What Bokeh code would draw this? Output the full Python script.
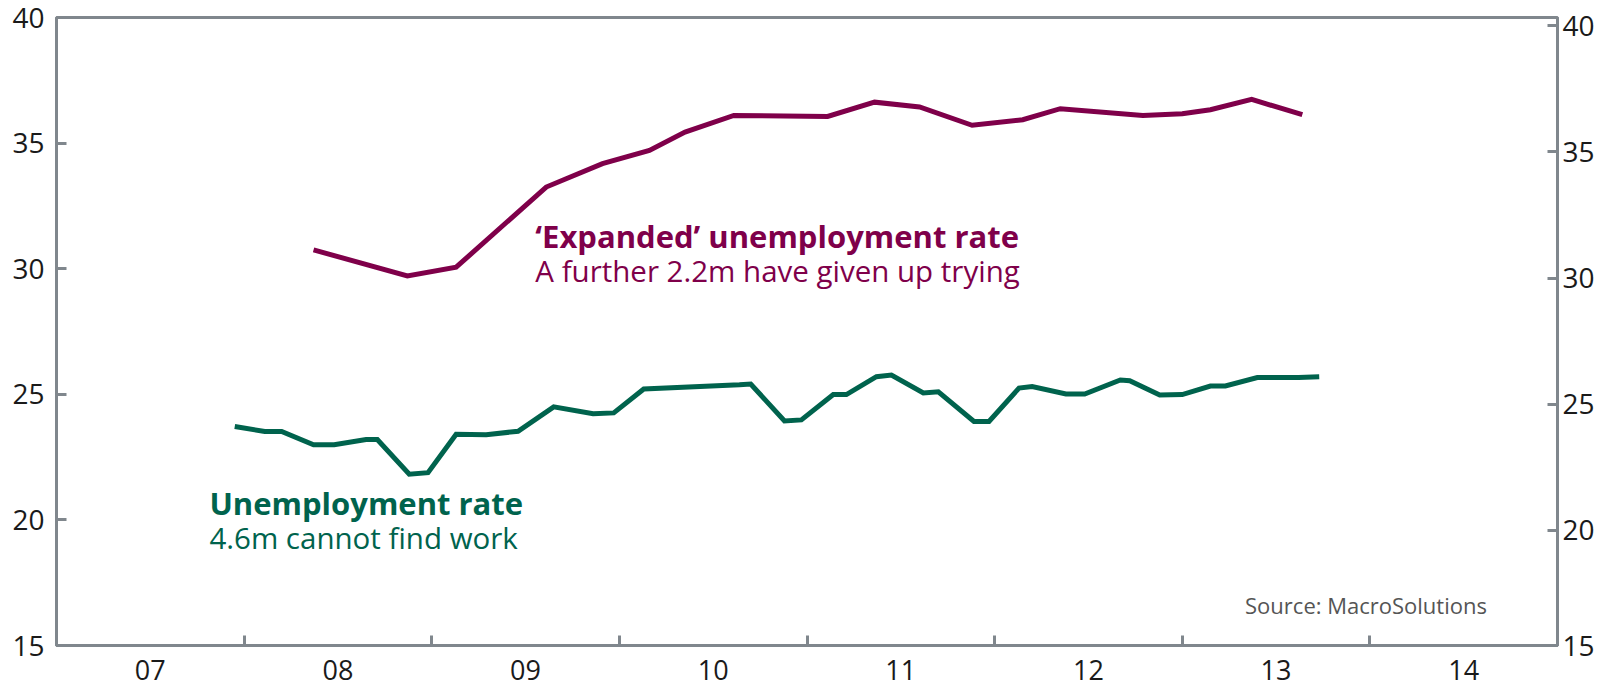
from bokeh.plotting import figure
from bokeh.models import Range1d, LinearAxis, FixedTicker, Label
from bokeh.embed import file_html
from bokeh.resources import INLINE

# ---- data (decimal years, percent) ----
exp_years = [2008.37, 2008.87, 2009.13, 2009.61, 2009.91, 2010.16, 2010.35, 2010.61,
             2011.11, 2011.36, 2011.60, 2011.88, 2012.15, 2012.35, 2012.79, 2013.00,
             2013.15, 2013.37, 2013.64]
exp_rate = [30.75, 29.71, 30.06, 33.25, 34.18, 34.71, 35.44, 36.10,
            36.06, 36.63, 36.44, 35.71, 35.93, 36.37, 36.10, 36.17,
            36.33, 36.74, 36.13]

unemp_years = [2007.95, 2008.11, 2008.20, 2008.37, 2008.48, 2008.65, 2008.71, 2008.88,
               2008.98, 2009.13, 2009.29, 2009.46, 2009.65, 2009.86, 2009.97, 2010.13,
               2010.64, 2010.70, 2010.88, 2010.97, 2011.14, 2011.21, 2011.37, 2011.45,
               2011.62, 2011.70, 2011.89, 2011.97, 2012.13, 2012.20, 2012.38, 2012.48,
               2012.67, 2012.72, 2012.88, 2013.00, 2013.15, 2013.23, 2013.40, 2013.62,
               2013.73]
unemp_rate = [23.72, 23.52, 23.52, 22.99, 22.99, 23.20, 23.20, 21.82,
              21.88, 23.41, 23.39, 23.53, 24.50, 24.23, 24.26, 25.21,
              25.38, 25.41, 23.94, 23.98, 24.99, 24.99, 25.70, 25.77,
              25.05, 25.10, 23.92, 23.92, 25.25, 25.31, 25.01, 25.01,
              25.57, 25.54, 24.97, 24.99, 25.33, 25.33, 25.67, 25.67,
              25.70]

year_bounds = [2007, 2008, 2009, 2010, 2011, 2012, 2013, 2014, 2015]
year_labels = ["07", "08", "09", "10", "11", "12", "13", "14"]
left_ticks = [15, 20, 25, 30, 35, 40]
right_ticks = [15.43, 20, 25, 30, 35, 40]
right_labels = ["15", "20", "25", "30", "35", "40"]

PURPLE = "#7f004a"
GREEN = "#00634d"
AXIS = "#80878d"
INK = "#1a1a1a"
FONT = "Open Sans"

p = figure(width=1608, height=688, output_backend="svg", toolbar_location=None,
           x_range=Range1d(2007, 2015), y_range=Range1d(15, 40),
           min_border_left=56, min_border_right=51, min_border_top=17, min_border_bottom=43)
p.extra_y_ranges = {"right": Range1d(15.43, 40.33)}

p.xgrid.visible = False
p.ygrid.visible = False
p.background_fill_color = "white"
p.border_fill_color = "white"
p.outline_line_color = AXIS
p.outline_line_width = 3

# x axis: labels at mid-year (major, no tick mark), tick marks at year boundaries (minor)
mids = [y + 0.5 for y in year_bounds[:-1]]
xa = p.xaxis[0]
xa.ticker = FixedTicker(ticks=mids, minor_ticks=year_bounds)
xa.major_label_overrides = {m: l for m, l in zip(mids, year_labels)}
xa.major_tick_in = 0
xa.major_tick_out = 0
xa.minor_tick_in = 10
xa.minor_tick_out = 0
xa.minor_tick_line_color = AXIS
xa.minor_tick_line_width = 3
xa.axis_line_color = AXIS
xa.axis_line_width = 3
xa.major_label_text_font = FONT
xa.major_label_text_font_size = "27px"
xa.major_label_text_color = INK
xa.major_label_standoff = 14

ya = p.yaxis[0]
ya.ticker = FixedTicker(ticks=left_ticks)
ya.major_tick_in = 10
ya.major_tick_out = 0
ya.minor_tick_line_color = None
ya.major_tick_line_color = AXIS
ya.major_tick_line_width = 3
ya.axis_line_color = AXIS
ya.axis_line_width = 3
ya.major_label_text_font = FONT
ya.major_label_text_font_size = "28px"
ya.major_label_text_color = INK
ya.major_label_standoff = 12

ra = LinearAxis(y_range_name="right", ticker=FixedTicker(ticks=right_ticks))
ra.major_label_overrides = {t: l for t, l in zip(right_ticks, right_labels)}
ra.major_tick_in = 10
ra.major_tick_out = 0
ra.minor_tick_line_color = None
ra.major_tick_line_color = AXIS
ra.major_tick_line_width = 3
ra.axis_line_color = AXIS
ra.axis_line_width = 3
ra.major_label_text_font = FONT
ra.major_label_text_font_size = "28px"
ra.major_label_text_color = INK
ra.major_label_standoff = 5
p.add_layout(ra, "right")

p.line(exp_years, exp_rate, line_color=PURPLE, line_width=5, line_join="miter")
p.line(unemp_years, unemp_rate, line_color=GREEN, line_width=5, line_join="miter")

def lab(x, y, text, color, size, style="normal", align="left"):
    p.add_layout(Label(x=x, y=y, text=text, text_color=color, text_font=FONT,
                       text_font_size=size, text_font_style=style, text_align=align,
                       text_baseline="alphabetic"))

lab(2009.552, 31.32, "\u2018Expanded\u2019 unemployment rate", PURPLE, "31px", "bold")
lab(2009.552, 29.91, "A further 2.2m have given up trying", PURPLE, "29.5px")
lab(2007.815, 20.68, "Unemployment rate", GREEN, "31px", "bold")
lab(2007.815, 19.31, "4.6m cannot find work", GREEN, "29.5px")
lab(2014.624, 16.62, "Source: MacroSolutions", "#555555", "22px", align="right")

open("out.html", "w").write(file_html(p, INLINE))
